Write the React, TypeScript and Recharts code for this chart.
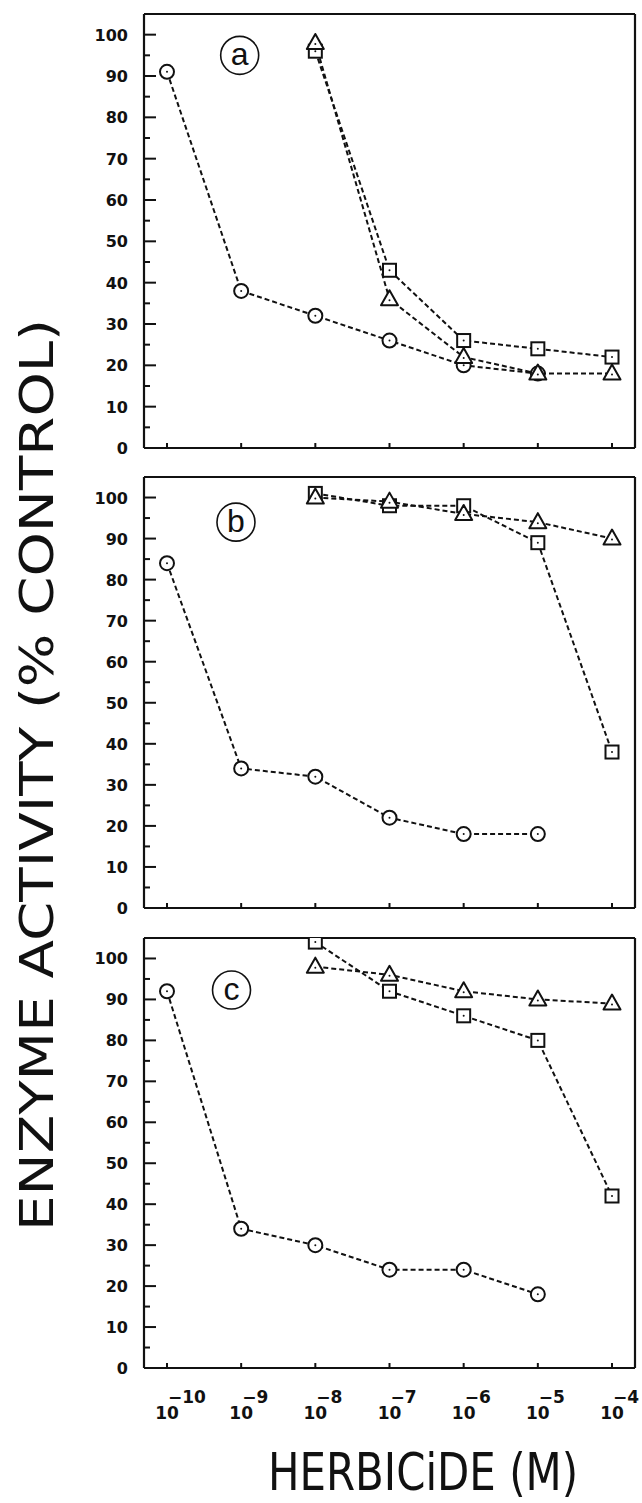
import { LineChart, Line, XAxis, YAxis, ReferenceDot } from "recharts";

// decades of herbicide concentration (log10 M)
const EXPONENTS = [-10, -9, -8, -7, -6, -5, -4];
const Y_TICKS = [0, 5, 10, 15, 20, 25, 30, 35, 40, 45, 50, 55, 60, 65, 70, 75, 80, 85, 90, 95, 100];

// panel a
const A_CIRCLE = [91, 38, 32, 26, 20, 18, null];
const A_SQUARE = [null, null, 96, 43, 26, 24, 22];
const A_TRIANGLE = [null, null, 98, 36, 22, 18, 18];
// panel b
const B_CIRCLE = [84, 34, 32, 22, 18, 18, null];
const B_SQUARE = [null, null, 101, 98, 98, 89, 38];
const B_TRIANGLE = [null, null, 100, 99, 96, 94, 90];
// panel c
const C_CIRCLE = [92, 34, 30, 24, 24, 18, null];
const C_SQUARE = [null, null, 104, 92, 86, 80, 42];
const C_TRIANGLE = [null, null, 98, 96, 92, 90, 89];

const X_DOMAIN: [number, number] = [-10.31, -3.69];
const Y_DOMAIN: [number, number] = [0, 105];

const INK = "#111";
const NUM_FONT = "'DejaVu Sans', 'Liberation Sans', sans-serif";
const TITLE_FONT = "'Liberation Sans Narrow', 'DejaVu Sans Condensed', 'Roboto Condensed', 'Liberation Sans', sans-serif";

const PANELS = [
  { id: "a", circle: A_CIRCLE, square: A_SQUARE, triangle: A_TRIANGLE, top: 14, bottom: 448, tagX: -9.02, tagY: 95, labels: false },
  { id: "b", circle: B_CIRCLE, square: B_SQUARE, triangle: B_TRIANGLE, top: 477, bottom: 908, tagX: -9.07, tagY: 94, labels: false },
  { id: "c", circle: C_CIRCLE, square: C_SQUARE, triangle: C_TRIANGLE, top: 938, bottom: 1368, tagX: -9.13, tagY: 92.3, labels: true },
];

const M_TOP = 8;

function makeRows(circle: (number | null)[], square: (number | null)[], triangle: (number | null)[]) {
  return EXPONENTS.map((x, i) => ({ x, circle: circle[i], square: square[i], triangle: triangle[i] }));
}

function YTick({ x, y, payload }: any) {
  const v = payload.value;
  const major = v % 10 === 0;
  return (
    <g>
      <line x1={x} x2={x + (major ? 12 : 6)} y1={y} y2={y} stroke={INK} strokeWidth={2} />
      {major && (
        <text x={x - 16} y={y} dy={6} textAnchor="end" fontFamily={NUM_FONT} fontWeight="bold" fontSize={16} fill={INK}>
          {v}
        </text>
      )}
    </g>
  );
}

function makeXTick(showLabels: boolean) {
  return function XTick({ x, y, payload }: any) {
    const e = payload.value;
    return (
      <g>
        <line x1={x} x2={x} y1={y} y2={y - 5} stroke={INK} strokeWidth={2} />
        {showLabels && (
          <>
            <text x={x} y={y + 51} textAnchor="middle" fontFamily={NUM_FONT} fontWeight="bold" fontSize={17} fill={INK}>
              10
            </text>
            <text x={x + 1} y={y + 35} textAnchor="start" fontFamily={NUM_FONT} fontWeight="bold" fontSize={17} fill={INK}>
              {"\u2212" + Math.abs(e)}
            </text>
          </>
        )}
      </g>
    );
  };
}

function CircleDot({ cx, cy, index }: any) {
  if (cx == null || cy == null) return <g key={index} />;
  return (
    <g key={index}>
      <circle cx={cx} cy={cy} r={7} fill="#fff" stroke={INK} strokeWidth={2} />
      <circle cx={cx} cy={cy} r={1} fill={INK} />
    </g>
  );
}

function SquareDot({ cx, cy, index }: any) {
  if (cx == null || cy == null) return <g key={index} />;
  return (
    <g key={index}>
      <rect x={cx - 6.5} y={cy - 6.5} width={13} height={13} fill="#fff" stroke={INK} strokeWidth={2} />
      <circle cx={cx} cy={cy} r={1} fill={INK} />
    </g>
  );
}

function TriangleDot({ cx, cy, index }: any) {
  if (cx == null || cy == null) return <g key={index} />;
  const pts = `${cx},${cy - 9} ${cx + 8.5},${cy + 6} ${cx - 8.5},${cy + 6}`;
  return (
    <g key={index}>
      <polygon points={pts} fill="#fff" stroke={INK} strokeWidth={2} strokeLinejoin="round" />
      <circle cx={cx} cy={cy + 1} r={1} fill={INK} />
    </g>
  );
}

function Tag({ cx, cy, letter }: any) {
  return (
    <g>
      <circle cx={cx} cy={cy} r={19} fill="none" stroke={INK} strokeWidth={1.6} />
      <text x={cx} y={cy + 10} textAnchor="middle" fontFamily="'Liberation Sans', sans-serif" fontSize={32} fill={INK}>
        {letter}
      </text>
    </g>
  );
}

function Panel({ panel }: any) {
  const mBottom = panel.labels ? 70 : 14;
  const plotH = panel.bottom - panel.top;
  const rows = makeRows(panel.circle, panel.square, panel.triangle);
  const lineProps = {
    type: "linear" as const,
    stroke: INK,
    strokeWidth: 2,
    strokeDasharray: "5 3",
    isAnimationActive: false,
    activeDot: false as const,
  };
  const frame = { stroke: INK, strokeWidth: 2.2 };
  return (
    <div style={{ position: "absolute", left: 0, top: panel.top - M_TOP }}>
      <LineChart
        width={642}
        height={plotH + M_TOP + mBottom}
        data={rows}
        margin={{ top: M_TOP - 1, right: 6, bottom: mBottom - 1, left: 84 }}
        style={{ overflow: "visible" }}
      >
        <XAxis
          dataKey="x"
          type="number"
          domain={X_DOMAIN}
          ticks={EXPONENTS}
          interval={0}
          allowDataOverflow
          height={1}
          tickLine={false}
          tickSize={0}
          tickMargin={0}
          axisLine={frame}
          tick={makeXTick(panel.labels)}
        />
        <XAxis xAxisId="top" orientation="top" type="number" domain={X_DOMAIN} height={1} tick={false} tickLine={false} axisLine={frame} />
        <YAxis
          type="number"
          domain={Y_DOMAIN}
          ticks={Y_TICKS}
          interval={0}
          allowDataOverflow
          width={60}
          tickLine={false}
          tickSize={0}
          tickMargin={0}
          axisLine={frame}
          tick={<YTick />}
        />
        <YAxis yAxisId="right" orientation="right" type="number" domain={Y_DOMAIN} width={1} tick={false} tickLine={false} axisLine={frame} />
        <Line {...lineProps} dataKey="circle" dot={(p: any) => <CircleDot {...p} key={"c" + p.index} />} />
        <Line {...lineProps} dataKey="square" dot={(p: any) => <SquareDot {...p} key={"s" + p.index} />} />
        <Line {...lineProps} dataKey="triangle" dot={(p: any) => <TriangleDot {...p} key={"t" + p.index} />} />
        <ReferenceDot x={panel.tagX} y={panel.tagY} r={0} shape={(p: any) => <Tag {...p} letter={panel.id} />} />
      </LineChart>
    </div>
  );
}

export default function App() {
  return (
    <div style={{ position: "absolute", left: 0, top: 0, width: 642, height: 1503, background: "#fff" }}>
      {PANELS.map((p) => (
        <Panel key={p.id} panel={p} />
      ))}
      <svg width={642} height={1503} style={{ position: "absolute", left: 0, top: 0, pointerEvents: "none" }}>
        <text
          transform="translate(53, 775) rotate(-90)"
          textAnchor="middle"
          fontFamily={TITLE_FONT}
          fontSize={46}
          textLength={912}
          lengthAdjust="spacingAndGlyphs"
          fill={INK}
        >
          ENZYME  ACTIVITY  (% CONTROL)
        </text>
        <text x={423} y={1490} textAnchor="middle" fontFamily={TITLE_FONT} fontSize={52} textLength={310} lengthAdjust="spacingAndGlyphs" fill={INK}>
          HERBICiDE (M)
        </text>
      </svg>
    </div>
  );
}
